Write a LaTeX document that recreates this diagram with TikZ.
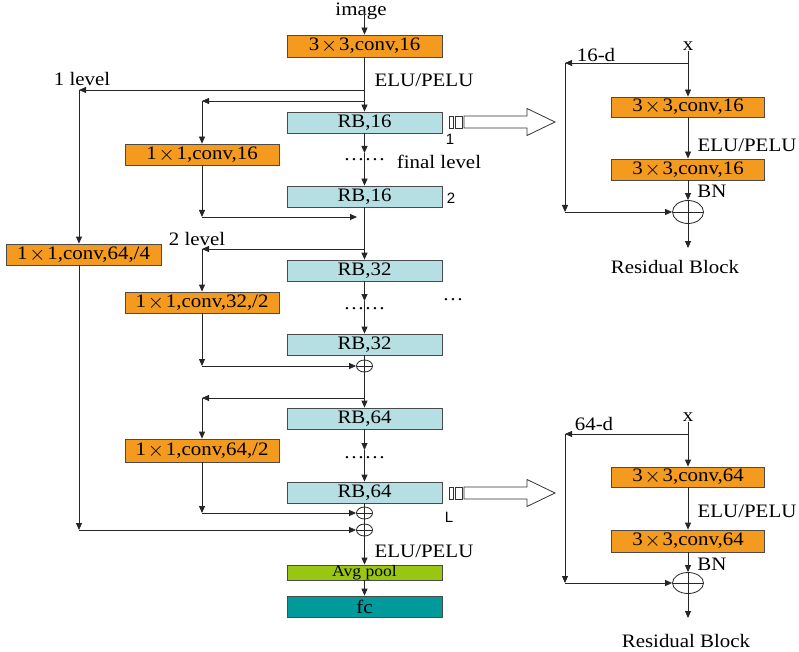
\documentclass[tikz,border=0pt]{standalone}
\usepackage{fontspec}
\setmainfont{Liberation Serif}[FakeStretch=1.1]
\newfontfamily\sansf{Liberation Sans}
\usetikzlibrary{arrows.meta,shapes.geometric}
\definecolor{boxorange}{HTML}{F39A1F}
\definecolor{rbblue}{HTML}{B5DFE2}
\definecolor{poolgreen}{HTML}{99C611}
\definecolor{fcteal}{HTML}{009A9A}
\definecolor{edgegray}{HTML}{4A4A4A}
\newcommand{\mul}{\makebox[1.05em]{\raisebox{-0.05em}{\scalebox{1.2}{$\times$}}}}
\begin{document}
\begin{tikzpicture}[x=1pt,y=-1pt,
  box/.style={draw=edgegray, line width=0.8pt, minimum width=155pt, minimum height=21pt, inner sep=0pt, font=\fontsize{19}{19}\selectfont},
  conv/.style={box, fill=boxorange},
  rb/.style={box, fill=rbblue},
  arr/.style={-{Triangle[length=7pt,width=6pt]}, line width=0.8pt, draw=black!85},
  ln/.style={line width=0.8pt, draw=black!85},
  lbl/.style={font=\fontsize{19}{19}\selectfont, inner sep=0pt},
  slbl/.style={font=\sansf\fontsize{15}{15}\selectfont, inner sep=0pt},
  sumnode/.style={ellipse, draw=black!85, line width=0.8pt, inner sep=0pt,
    path picture={\draw[line width=0.8pt, black!85] (path picture bounding box.north) -- (path picture bounding box.south)
      (path picture bounding box.west) -- (path picture bounding box.east);}},
  hollow/.style={draw=black!80, line width=0.8pt, fill=white}
]
\useasboundingbox (0,0) rectangle (799,652);
\fill[white] (0,0) rectangle (799,652);

% ---------- main column ----------
\node[lbl] (img) at (361,11) {image};
\node[conv, minimum height=22pt] (conv0) at (364.5,46) {3\mul3,conv,16};
\node[rb] (RB16a) at (364.5,122.5) {RB,16};
\node[conv, minimum width=154pt] (c16) at (202,154.5) {1\mul1,conv,16};
\node[rb] (RB16b) at (364.5,196.5) {RB,16};
\node[conv] (c64a) at (83.5,254.5) {1\mul1,conv,64,/4};
\node[rb] (RB32a) at (364.5,270.5) {RB,32};
\node[conv, minimum width=154pt] (c32) at (202,302.5) {1\mul1,conv,32,/2};
\node[rb] (RB32b) at (364.5,344.5) {RB,32};
\node[sumnode, minimum width=16pt, minimum height=12pt] (sum1) at (364.5,366) {};
\node[rb] (RB64a) at (364.5,418.5) {RB,64};
\node[conv, minimum width=154pt, minimum height=23pt] (c64b) at (202,450.5) {1\mul1,conv,64,/2};
\node[rb] (RB64b) at (364.5,492.5) {RB,64};
\node[sumnode, minimum width=16pt, minimum height=12pt] (sum2) at (364.5,513) {};
\node[sumnode, minimum width=16pt, minimum height=12pt] (sum3) at (364.5,530) {};
\node[box, fill=poolgreen, minimum height=15pt, font=\fontsize{16}{16}\selectfont] (avg) at (364.5,572.5) {Avg pool};
\node[box, fill=fcteal] (fc) at (364.5,606.5) {fc};

% labels
\node[lbl] (elu1) at (424,80) {ELU/PELU};
\node[lbl] (lev1) at (82,79) {1 level};
\node[lbl] (lev2) at (197,239) {2 level};
\node[lbl] (fin) at (439,162) {final level};
\node[lbl] (dots1) at (364.5,160) {……};
\node[lbl] (dots2) at (364.5,309) {……};
\node[lbl] (dots3) at (364.5,458) {……};
\node[lbl] (dots4) at (453,300) {…};
\node[lbl] (elu2) at (424,551) {ELU/PELU};
\node[slbl] (n1) at (450,139) {1};
\node[slbl] (n2) at (451,198) {2};
\node[slbl] (nL) at (449,517) {L};

% coordinates
\coordinate (top) at (364.5,13);
\coordinate (j1) at (364.5,90);
\coordinate (l1) at (79,90);
\coordinate (j2) at (364.5,101);
\coordinate (b1) at (202,101);
\coordinate (d1) at (364.5,153);
\coordinate (k1) at (202,217);
\coordinate (k1e) at (357,217);
\coordinate (j3) at (364.5,249);
\coordinate (b2) at (202,249);
\coordinate (d2) at (364.5,301);
\coordinate (k2) at (202,366);
\coordinate (j4) at (364.5,398);
\coordinate (b3) at (202,398);
\coordinate (d3) at (364.5,450);
\coordinate (k3) at (202,513);
\coordinate (k4) at (79,530);

% connectors
\draw[arr] (top) -- (conv0.north);
\draw[arr] (conv0.south) -- (RB16a.north);
\draw[arr] (j1) -- (l1);
\draw[arr] (l1) -- (l1 |- c64a.north);
\draw[arr] (j2) -- (b1);
\draw[arr] (b1) -- (c16.north);
\draw[arr] (RB16a.south) -- (d1);
\draw[arr] (d1) -- (RB16b.north);
\draw[arr] (c16.south) -- (k1);
\draw[arr] (k1) -- (k1e);
\draw[arr] (RB16b.south) -- (RB32a.north);
\draw[arr] (j3) -- (b2);
\draw[arr] (b2) -- (c32.north);
\draw[arr] (RB32a.south) -- (d2);
\draw[arr] (d2) -- (RB32b.north);
\draw[arr] (c32.south) -- (k2);
\draw[arr] (k2) -- (sum1.west);
\draw[ln] (RB32b.south) -- (sum1.north);
\draw[arr] (sum1.south) -- (RB64a.north);
\draw[arr] (j4) -- (b3);
\draw[arr] (b3) -- (c64b.north);
\draw[arr] (RB64a.south) -- (d3);
\draw[arr] (d3) -- (RB64b.north);
\draw[arr] (c64b.south) -- (k3);
\draw[arr] (k3) -- (sum2.west);
\draw[ln] (RB64b.south) -- (sum2.north);
\draw[ln] (sum2.south) -- (sum3.north);
\draw[arr] (l1 |- c64a.south) -- (k4);
\draw[arr] (k4) -- (sum3.west);
\draw[arr] (sum3.south) -- (avg.north);
\draw[arr] (avg.south) -- (fc.north);

% hollow arrows
\draw[hollow] (449,116) rectangle (453,128);
\draw[hollow] (455,116) rectangle (462,128);
\draw[hollow] (464,116) -- (527,116) -- (527,108.5) -- (555,122) -- (527,135.5) -- (527,128) -- (464,128) -- cycle;
\draw[hollow] (449,487) rectangle (453,499);
\draw[hollow] (455,487) rectangle (462,499);
\draw[hollow] (464,487) -- (527,487) -- (527,479.5) -- (555,493) -- (527,506.5) -- (527,499) -- (464,499) -- cycle;

% ---------- residual block (top) ----------
\node[lbl] (x1) at (688,46) {x};
\node[conv, minimum width=153pt, minimum height=20pt] (r1a) at (688,107) {3\mul3,conv,16};
\node[conv, minimum width=153pt] (r1b) at (688,169.5) {3\mul3,conv,16};
\node[sumnode, minimum width=31pt, minimum height=23pt] (rs1) at (688,212) {};
\node[lbl] (d16) at (596,55) {16-d};
\node[lbl] (elu3) at (747,145) {ELU/PELU};
\node[lbl] (bn1) at (712,191) {BN};
\node[lbl] (res1) at (675,267) {Residual Block};
\coordinate (rj1) at (688,63);
\coordinate (rl1) at (565,63);
\coordinate (rk1) at (565,212);
\coordinate (rend1) at (688,248);
\draw[arr] (x1.south) -- (r1a.north);
\draw[arr] (rj1) -- (rl1);
\draw[arr] (rl1) -- (rk1);
\draw[arr] (rk1) -- (rs1.west);
\draw[arr] (r1a.south) -- (r1b.north);
\draw[arr] (r1b.south) -- (rs1.north);
\draw[arr] (rs1.south) -- (rend1);

% ---------- residual block (bottom) ----------
\node[lbl] (x2) at (688,417) {x};
\node[conv, minimum width=153pt, minimum height=20pt] (r2a) at (688,477) {3\mul3,conv,64};
\node[conv, minimum width=153pt, minimum height=22pt] (r2b) at (688,541) {3\mul3,conv,64};
\node[sumnode, minimum width=31pt, minimum height=21pt] (rs2) at (688,583) {};
\node[lbl] (d64) at (594,424) {64-d};
\node[lbl] (elu4) at (747,511) {ELU/PELU};
\node[lbl] (bn2) at (712,564) {BN};
\node[lbl] (res2) at (686,641) {Residual Block};
\coordinate (rj2) at (688,434);
\coordinate (rl2) at (565,434);
\coordinate (rk2) at (565,583);
\coordinate (rend2) at (688,618);
\draw[arr] (x2.south) -- (r2a.north);
\draw[arr] (rj2) -- (rl2);
\draw[arr] (rl2) -- (rk2);
\draw[arr] (rk2) -- (rs2.west);
\draw[arr] (r2a.south) -- (r2b.north);
\draw[arr] (r2b.south) -- (rs2.north);
\draw[arr] (rs2.south) -- (rend2);
\end{tikzpicture}
\end{document}
